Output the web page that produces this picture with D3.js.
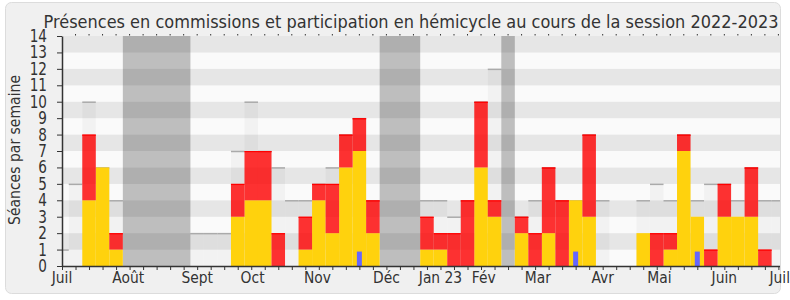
<!DOCTYPE html>
<meta charset="utf-8">
<html>
<head>
<script type="text/javascript" src="https://d3js.org/d3.v7.js"></script>
<style>
  body { margin:0; background:#fff; }
  text { font-family:"DejaVu Sans", sans-serif; fill:#333; }
</style>
</head>
<body>
<div id="plotArea"></div>
<script>
  // one value per week, from July 2022 to July 2023 (week 0 = first tick)
  var seances    = [1,5,10,6,4, 0,0,0,0,0, 2,2,2,7,10, 7,6,4,4,5, 6,8,9,4,0, 0,0,4,4,3, 4,10,12,0,3, 4,6,4,4,8, 4,0,0,4,5, 4,8,4,5,5, 4,6,4,4]
  var commission = [0,0,4,6,1, 0,0,0,0,0, 0,0,0,3,4, 4,0,0,1,4, 2,6,7,2,0, 0,0,1,1,0, 0,6,3,0,2, 0,2,0,4,3, 0,0,0,2,0, 1,7,3,0,3, 3,3,0,0]
  var hemicycle  = [0,0,4,0,1, 0,0,0,0,0, 0,0,0,2,3, 3,2,0,2,1, 3,2,2,2,0, 0,0,2,1,2, 4,4,1,0,1, 2,4,4,0,5, 0,0,0,0,2, 1,1,0,1,2, 0,3,1,0]
  var questions  = [0,0,0,0,0, 0,0,0,0,0, 0,0,0,0,0, 0,0,0,0,0, 0,0,1,0,0, 0,0,0,0,0, 0,0,0,0,0, 0,0,0,1,0, 0,0,0,0,0, 0,0,1,0,0, 0,0,0,0]
  // parliamentary holidays (first week, last week)
  var vacances = [[5,9],[24,26],[33,33]]
  // month labels and the week they sit on
  var monthLabels = ['Juil','Août','Sept','Oct','Nov','Déc','Jan 23','Fév','Mar','Avr','Mai','Juin','Juil']
  var monthWeeks  = [0,4.9,10,14.1,18.9,24,28,31.2,35.2,40,44.2,49,53.1]
  var yTicks = d3.range(0,15)

  const W = 790, H = 300
  const mLeft = 62, mRight = 780, mTop = 36, mBottom = 266

  const svg = d3.select('#plotArea').append('svg')
      .attr('width', W).attr('height', H)

  // frame
  svg.append('rect').attr('x',5.5).attr('y',2.5).attr('width',775).attr('height',291)
     .attr('rx',6).attr('fill','#f0f0f0').attr('stroke','#dcdcdc')

  var x = d3.scaleLinear().domain([0,53]).range([mLeft, 778.4])
  var y = d3.scaleLinear().domain([0,14]).range([mBottom, mTop])
  var bw = x(1) - x(0)

  svg.append('clipPath').attr('id','clip').append('rect')
     .attr('x',mLeft).attr('y',mTop).attr('width',mRight-mLeft).attr('height',mBottom-mTop)

  var plot = svg.append('g').attr('clip-path','url(#clip)')

  // horizontal stripes
  plot.selectAll('.stripe').data(d3.range(0,14)).enter().append('rect')
      .attr('x',mLeft).attr('width',mRight-mLeft)
      .attr('y',function(d){return y(d+1)})
      .attr('height',function(d){return y(d)-y(d+1)})
      .attr('fill',function(d){return d%2==1 ? '#e6e6e6' : '#fafafa'})

  // total sittings of the week
  var weeks = d3.range(0, seances.length)
  var withSeance = weeks.filter(function(k){return seances[k]>0})
  plot.selectAll('.seance').data(withSeance).enter().append('rect')
      .attr('x',function(k){return x(k)-bw/2}).attr('width',bw)
      .attr('y',function(k){return y(seances[k])})
      .attr('height',function(k){return y(0)-y(seances[k])})
      .attr('fill','rgba(0,0,0,0.03)')
  plot.selectAll('.seanceTop').data(withSeance).enter().append('line')
      .attr('x1',function(k){return x(k)-bw/2}).attr('x2',function(k){return x(k)+bw/2})
      .attr('y1',function(k){return y(seances[k])+0.5}).attr('y2',function(k){return y(seances[k])+0.5})
      .attr('stroke','#aaa').attr('stroke-width',1.5)

  // holidays
  plot.selectAll('.vac').data(vacances).enter().append('rect')
      .attr('x',function(d){return x(d[0]-0.5)})
      .attr('width',function(d){return x(d[1]+0.5)-x(d[0]-0.5)})
      .attr('y',mTop).attr('height',mBottom-mTop)
      .attr('fill','rgba(0,0,0,0.24)')

  // commission (yellow) then hemicycle (red) stacked above
  plot.selectAll('.com').data(weeks.filter(function(k){return commission[k]>0})).enter().append('rect')
      .attr('x',function(k){return x(k)-bw/2}).attr('width',bw)
      .attr('y',function(k){return y(commission[k])})
      .attr('height',function(k){return y(0)-y(commission[k])})
      .attr('fill','#ffd20d')
  var hemi = weeks.filter(function(k){return hemicycle[k]>0})
  plot.selectAll('.hemi').data(hemi).enter().append('rect')
      .attr('x',function(k){return x(k)-bw/2}).attr('width',bw)
      .attr('y',function(k){return y(commission[k]+hemicycle[k])})
      .attr('height',function(k){return y(commission[k])-y(commission[k]+hemicycle[k])})
      .attr('fill','rgba(255,0,0,0.8)')
  plot.selectAll('.hemiTop').data(hemi).enter().append('rect')
      .attr('x',function(k){return x(k)-bw/2}).attr('width',bw)
      .attr('y',function(k){return y(commission[k]+hemicycle[k])})
      .attr('height',1.2)
      .attr('fill','#f00')

  // oral questions
  plot.selectAll('.q').data(weeks.filter(function(k){return questions[k]>0})).enter().append('rect')
      .attr('x',function(k){return x(k)-2.5}).attr('width',5)
      .attr('y',function(k){return y(questions[k])+2})
      .attr('height',function(k){return y(0)-y(questions[k])-2})
      .attr('fill','#6666ff')

  // axes
  var xAxis = svg.append('g').attr('transform','translate(0,'+mBottom+')')
      .call(d3.axisBottom(x).tickValues(weeks).tickSize(4).tickSizeOuter(0).tickFormat(''))
  xAxis.select('.domain').attr('d','M'+mLeft+',0.5H'+mRight).attr('stroke','#333').attr('stroke-width',1.5)
  xAxis.selectAll('line').attr('stroke','#333')

  var yAxis = svg.append('g').attr('transform','translate('+mLeft+',0)')
      .call(d3.axisLeft(y).tickValues(yTicks).tickSize(5).tickSizeOuter(0).tickFormat(''))
  yAxis.select('.domain').attr('stroke','#333').attr('stroke-width',1.5)
  yAxis.selectAll('line').attr('stroke','#333')

  // small dots along the top
  svg.append('g').selectAll('rect').data(weeks.slice(1)).enter().append('rect')
      .attr('x',function(k){return x(k)-0.5}).attr('y',mTop-2).attr('width',1).attr('height',1.5)
      .attr('fill','#333')

  // y tick labels
  svg.append('g').selectAll('text').data(yTicks).enter().append('text')
      .attr('transform',function(d){return 'translate(47,'+(y(d)+6)+') scale(0.8,1)'})
      .attr('text-anchor','end').style('font-size','17px')
      .text(function(d){return d})

  // month labels
  svg.append('g').selectAll('text').data(monthLabels).enter().append('text')
      .attr('transform',function(d,i){return 'translate('+x(monthWeeks[i])+',283) scale(0.84,1)'})
      .attr('text-anchor','middle').style('font-size','16.5px')
      .text(function(d){return d})

  // title
  svg.append('text').attr('x',43.5).attr('y',28)
     .attr('textLength',735).attr('lengthAdjust','spacingAndGlyphs')
     .style('font-size','17.5px')
     .text('Présences en commissions et participation en hémicycle au cours de la session 2022-2023')

  // y label
  svg.append('text').attr('transform','translate(19.5,150) rotate(-90)')
     .attr('text-anchor','middle').attr('textLength',150).attr('lengthAdjust','spacingAndGlyphs')
     .style('font-size','16.5px')
     .text('Séances par semaine')
</script>
</body>
</html>
